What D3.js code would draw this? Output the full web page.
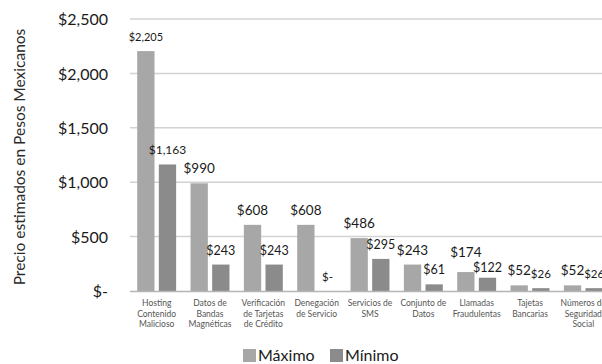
<!DOCTYPE html>
<html><head><meta charset="utf-8">
<script src="https://cdn.jsdelivr.net/npm/d3@7"></script>
<style>body{margin:0;background:#fff}svg{display:block}</style>
</head><body>
<svg id="c" width="602" height="364"></svg>
<script>
const categories = [
  ["Hosting","Contenido","Malicioso"],
  ["Datos de","Bandas","Magnéticas"],
  ["Verificación","de Tarjetas","de Crédito"],
  ["Denegación","de Servicio"],
  ["Servicios de","SMS"],
  ["Conjunto de","Datos"],
  ["Llamadas","Fraudulentas"],
  ["Tajetas","Bancarias"],
  ["Números de","Seguridad","Social"]
];
const seriesNames = ["Máximo","Mínimo"];
const maximo = [2205, 990, 608, 608, 486, 243, 174, 52, 52];
const minimo = [1163, 243, 243, 0, 295, 61, 122, 26, 26];
const yTicks = [0, 500, 1000, 1500, 2000, 2500];
const yTickLabels = ["$-", "$500", "$1,000", "$1,500", "$2,000", "$2,500"];
const yTitle = "Precio estimados en Pesos Mexicanos";

const colors = {"Máximo":"#a7a7a7","Mínimo":"#8b8b8b"};
const font = "Lato, 'Open Sans', sans-serif";
const svg = d3.select("#c");
const keys = categories.map((c,i)=>"c"+i);

const x0 = d3.scaleBand().domain(keys).range([130, 610]).paddingInner(0.27).paddingOuter(0.135);
const x1 = d3.scaleBand().domain(seriesNames).range([0, x0.bandwidth()]).paddingInner(0.2);
const y = d3.scaleLinear().domain([0, 2500]).range([291, 19]);

// gridlines
svg.append("g").selectAll("line").data(yTicks.filter(d=>d>0)).join("line")
  .attr("x1", 130).attr("x2", 602).attr("y1", d=>y(d)).attr("y2", d=>y(d))
  .attr("stroke", "#d2d2d2").attr("stroke-width", 1.5);

// y axis labels
const yAxis = d3.axisLeft(y).tickValues(yTicks).tickSize(0).tickPadding(0)
  .tickFormat((d,i)=>yTickLabels[i]);
const ga = svg.append("g").attr("transform","translate(108,0)").call(yAxis);
ga.select(".domain").remove();
ga.selectAll("text").attr("font-family", font).attr("font-size", 16).attr("fill", "#1a1a1a").attr("dy","0.35em");

// bars
const data = keys.map((k,i)=>({k, vals:[{s:"Máximo",v:maximo[i]},{s:"Mínimo",v:minimo[i]}]}));
const groups = svg.append("g").selectAll("g").data(data).join("g")
  .attr("transform", d=>`translate(${x0(d.k)},0)`);
groups.selectAll("rect").data(d=>d.vals).join("rect")
  .attr("x", d=>x1(d.s)).attr("width", x1.bandwidth())
  .attr("y", d=>y(d.v)).attr("height", d=>y(0)-y(d.v))
  .attr("fill", d=>colors[d.s]);
groups.each(function(g,i){
  const sel = d3.select(this).selectAll("text").data(g.vals).join("text")
    .attr("x", d=>x1(d.s)+x1.bandwidth()/2)
    .attr("y", d=>y(d.v)-10)
    .attr("text-anchor","middle")
    .attr("font-family", font)
    .attr("font-size", d=> i===0 ? (d.s==="Máximo"?11:12) : (d.s==="Máximo"?13.5:(d.v<50?11.5:12.5)))
    .attr("fill","#1a1a1a")
    .text(d=> d.v===0 ? "$-" : "$"+d3.format(",")(d.v));
  // simple collision avoidance between the two labels of a group
  const nodes = sel.nodes();
  const b0 = nodes[0].getBBox(), b1 = nodes[1].getBBox();
  const hOverlap = (b0.x + b0.width) - b1.x > 3;
  const y0 = +nodes[0].getAttribute("y"), y1 = +nodes[1].getAttribute("y");
  if (hOverlap && Math.abs(y1 - y0) < 14) {
    const mid = (y0 + y1) / 2;
    d3.select(nodes[0]).attr("y", mid - 7.5);
    d3.select(nodes[1]).attr("y", mid + 7.5);
  }
});

// baseline
svg.append("line").attr("x1",130).attr("x2",602).attr("y1",y(0)+0.5).attr("y2",y(0)+0.5)
  .attr("stroke","#b5b5b5").attr("stroke-width",1.5);

// x labels
const xl = svg.append("g").selectAll("text").data(keys).join("text")
  .attr("transform", d=>`translate(${x0(d)+x0.bandwidth()/2},306)`)
  .attr("text-anchor","middle").attr("font-family",font).attr("font-size",8.5).attr("fill","#555");
xl.each(function(d,i){
  d3.select(this).selectAll("tspan").data(categories[i]).join("tspan")
    .attr("x",0).attr("dy",(t,j)=>j===0?0:10.5).text(t=>t);
});

// y title
svg.append("text").attr("transform","translate(25,157) rotate(-90)")
  .attr("text-anchor","middle").attr("font-family",font).attr("font-size",15.5).attr("fill","#2a2a2a")
  .text(yTitle);

// legend
const leg = svg.append("g").attr("transform","translate(243,349)");
const li = leg.selectAll("g").data(seriesNames).join("g").attr("transform",(d,i)=>`translate(${i*87},0)`);
li.append("rect").attr("width",13).attr("height",13).attr("fill",d=>colors[d]);
li.append("text").attr("x",15).attr("y",12).attr("font-family",font).attr("font-size",16).attr("fill","#1a1a1a").text(d=>d);
</script>
</body></html>
